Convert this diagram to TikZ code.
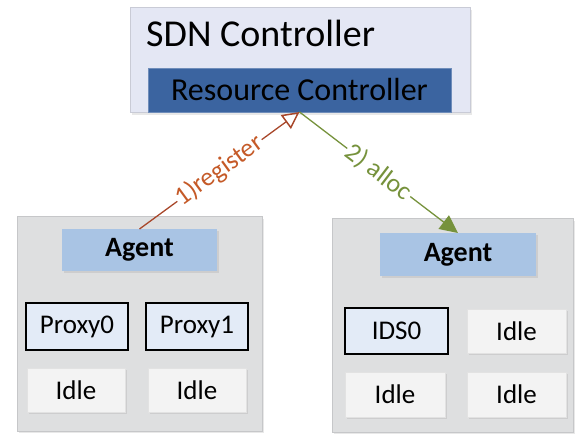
\documentclass[tikz,border=0pt]{standalone}
\usepackage{fontspec}
\setmainfont{Carlito}
\usetikzlibrary{arrows.meta,shadows}
\definecolor{sdnfill}{HTML}{E4E7F4}
\definecolor{sdnedge}{HTML}{C9CBD6}
\definecolor{rcfill}{HTML}{3B64A0}
\definecolor{rcedge}{HTML}{6F8DBA}
\definecolor{hostfill}{HTML}{DEDFE0}
\definecolor{hostedge}{HTML}{C6C7C9}
\definecolor{agentfill}{HTML}{A9C4E4}
\definecolor{slotfill}{HTML}{E3EBF7}
\definecolor{idlefill}{HTML}{F3F3F3}
\definecolor{idleedge}{HTML}{E2E2E2}
\definecolor{regline}{HTML}{A8472A}
\definecolor{regtext}{HTML}{C55A28}
\definecolor{allocgreen}{HTML}{76923C}
\tikzset{
  box/.style={inner sep=0pt, outer sep=0pt},
  soft/.style={drop shadow={opacity=0.18, shadow xshift=1.5pt, shadow yshift=-2pt}},
  host/.style={box, draw=hostedge, fill=hostfill, line width=1pt, soft},
  agentbox/.style={box, fill=agentfill, minimum width=155pt, minimum height=42pt,
    font=\fontsize{28}{30}\selectfont\bfseries, soft},
  busy/.style={box, draw=black, line width=2.8pt, fill=slotfill,
    minimum width=100pt, minimum height=45pt, font=\fontsize{27}{29}\selectfont},
  idle/.style={box, draw=idleedge, line width=0.8pt, fill=idlefill,
    minimum width=98pt, minimum height=44pt, font=\fontsize{27}{29}\selectfont, soft},
  msg/.style={midway, sloped, fill=white, inner sep=1.5pt, font=\fontsize{26}{28}\selectfont}
}
\begin{document}
\begin{tikzpicture}[x=1pt, y=-1pt]
\useasboundingbox (0,0) rectangle (575,435);

% controller
\node[box, draw=sdnedge, fill=sdnfill, line width=1pt, minimum width=340pt, minimum height=105pt, soft]
  (sdn) at (300,60.5) {};
\node[anchor=base west, inner sep=0pt, font=\fontsize{38}{40}\selectfont] (sdnlabel) at (146,47) {SDN Controller};
\node[box, draw=rcedge, fill=rcfill, line width=0.8pt, minimum width=303pt, minimum height=44pt,
  font=\fontsize{32}{34}\selectfont] (rc) at (299.5,90) {Resource Controller};

% left host
\node[host, minimum width=245pt, minimum height=214pt] (lhost) at (139.5,324) {};
\node[agentbox] (lagent) at (139.5,250) {Agent};
\node[busy, minimum width=102pt, minimum height=47pt] (proxy0) at (77,326.5) {Proxy0};
\node[busy, minimum width=102pt, minimum height=47pt] (proxy1) at (197,326.5) {Proxy1};
\node[idle] (lidle1) at (76,390) {Idle};
\node[idle] (lidle2) at (197,390) {Idle};

% right host
\node[host, minimum width=241pt, minimum height=213pt] (rhost) at (452.5,325.5) {};
\node[agentbox, minimum width=156pt, minimum height=43pt] (ragent) at (458,254.5) {Agent};
\node[busy, minimum width=103pt, minimum height=46pt] (ids0) at (396.5,331) {IDS0};
\node[idle, minimum width=99pt] (ridle1) at (516.5,331) {Idle};
\node[idle, minimum width=100pt, minimum height=45pt] (ridle2) at (395,394.5) {Idle};
\node[idle, minimum width=99pt, minimum height=45pt] (ridle3) at (516.5,394.5) {Idle};

% messages
\draw[regline, line width=1.3pt, -{Triangle[open, length=17pt, width=17pt, line width=1.5pt]}]
  (lagent.north) -- node[msg, text=regtext] (reglabel) {1)register} (rc.south);
\draw[allocgreen, line width=1.3pt, -{Triangle[length=18pt, width=17pt]}]
  (rc.south) -- node[msg, text=allocgreen] (alloclabel) {2) alloc} (ragent.north);
\end{tikzpicture}
\end{document}
